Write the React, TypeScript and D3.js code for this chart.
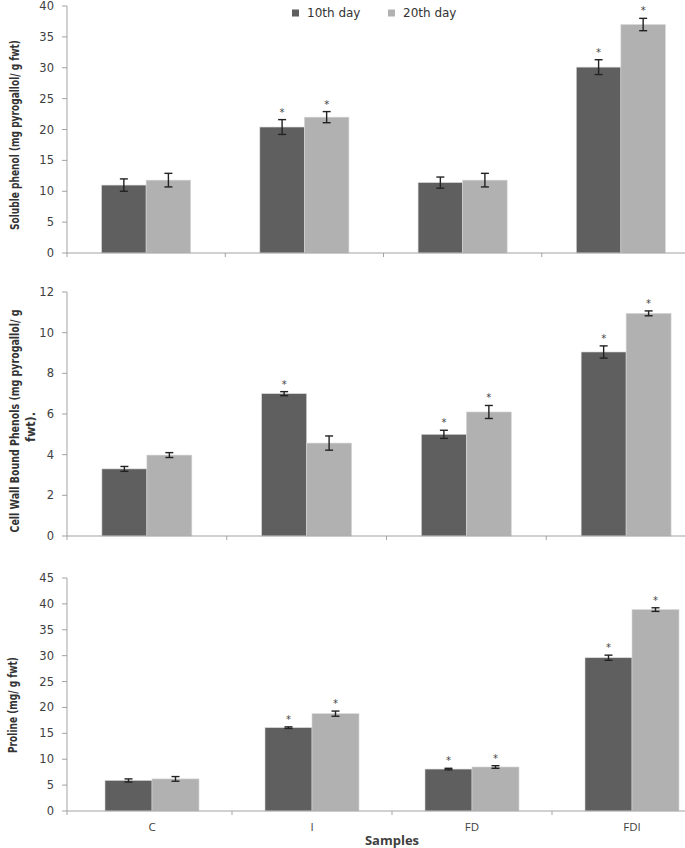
import React from "react";
import * as d3 from "d3";

const categories = ["C", "I", "FD", "FDI"];
const seriesNames = ["10th day", "20th day"];
const seriesColors = ["#5f5f5f", "#b1b1b1"];

// Soluble phenol
const soluble10 = [11.0, 20.4, 11.4, 30.1];
const soluble10Err = [1.0, 1.2, 0.9, 1.2];
const soluble10Sig = [false, true, false, true];
const soluble20 = [11.8, 22.0, 11.8, 37.0];
const soluble20Err = [1.1, 0.9, 1.1, 1.0];
const soluble20Sig = [false, true, false, true];
const solubleTicks = [0, 5, 10, 15, 20, 25, 30, 35, 40];

// Cell wall bound phenols
const cellWall10 = [3.3, 7.0, 5.0, 9.05];
const cellWall10Err = [0.12, 0.1, 0.2, 0.3];
const cellWall10Sig = [false, true, true, true];
const cellWall20 = [3.98, 4.57, 6.1, 10.95];
const cellWall20Err = [0.12, 0.35, 0.32, 0.12];
const cellWall20Sig = [false, false, true, true];
const cellWallTicks = [0, 2, 4, 6, 8, 10, 12];

// Proline
const proline10 = [5.9, 16.1, 8.1, 29.6];
const proline10Err = [0.3, 0.15, 0.15, 0.5];
const proline10Sig = [false, true, true, true];
const proline20 = [6.2, 18.8, 8.5, 38.9];
const proline20Err = [0.45, 0.5, 0.25, 0.35];
const proline20Sig = [false, true, true, true];
const prolineTicks = [0, 5, 10, 15, 20, 25, 30, 35, 40, 45];

const xAxisTitle = "Samples";

const LABEL_FONT = "'Liberation Sans Narrow', 'DejaVu Sans Condensed', 'Roboto Condensed', sans-serif";
const TICK_FONT = "'DejaVu Sans', Verdana, sans-serif";

type PanelProps = {
  yTop: number;
  yBottom: number;
  xRange: [number, number];
  padInner: number;
  ticks: number[];
  values: number[][];
  errors: number[][];
  sig: boolean[][];
  labelLines: { text: string; x: number; y: number; len: number }[];
  showCategories?: boolean;
  showLegend?: boolean;
};

function Panel(p: PanelProps) {
  const axisX = 67;
  const y = d3
    .scaleLinear()
    .domain([0, p.ticks[p.ticks.length - 1]])
    .range([p.yBottom, p.yTop]);
  const x = d3
    .scaleBand()
    .domain(categories)
    .range(p.xRange)
    .paddingInner(p.padInner)
    .paddingOuter(p.padInner / 2);
  const xs = d3
    .scaleBand<number>()
    .domain([0, 1])
    .range([0, x.bandwidth()]);
  const step = x.step();
  return (
    <g>
      {/* y axis */}
      <line x1={axisX} x2={axisX} y1={p.yTop} y2={p.yBottom} stroke="#a3a3a3" strokeWidth={1} />
      {p.ticks.map((t) => (
        <g key={t}>
          <line x1={axisX - 5} x2={axisX} y1={y(t)} y2={y(t)} stroke="#a3a3a3" strokeWidth={1} />
          <text
            x={axisX - 13}
            y={y(t)}
            dy="0.35em"
            textAnchor="end"
            fontSize={11.5}
            fontFamily={TICK_FONT}
            fill="#404040"
          >
            {t}
          </text>
        </g>
      ))}
      {/* bars */}
      {categories.map((c, i) => (
        <g key={c} transform={`translate(${x(c)},0)`}>
          {[0, 1].map((s) => {
            const v = p.values[s][i];
            const e = p.errors[s][i];
            const bx = xs(s) as number;
            const bw = xs.bandwidth();
            const cx = bx + bw / 2;
            return (
              <g key={s}>
                <rect
                  x={bx}
                  y={y(v)}
                  width={bw}
                  height={y(0) - y(v)}
                  fill={seriesColors[s]}
                  stroke="#d8d8d8"
                  strokeWidth={0.6}
                />
                <line x1={cx} x2={cx} y1={y(v + e)} y2={y(v - e)} stroke="#222" strokeWidth={1.4} />
                <line x1={cx - 4} x2={cx + 4} y1={y(v + e)} y2={y(v + e)} stroke="#222" strokeWidth={1.4} />
                <line x1={cx - 4} x2={cx + 4} y1={y(v - e)} y2={y(v - e)} stroke="#222" strokeWidth={1.4} />
                {p.sig[s][i] && (
                  <text
                    x={cx}
                    y={y(v + e) - 4}
                    textAnchor="middle"
                    fontSize={10}
                    fontFamily={TICK_FONT}
                    fill="#444"
                  >
                    *
                  </text>
                )}
              </g>
            );
          })}
        </g>
      ))}
      {/* x axis */}
      <line x1={axisX} x2={685} y1={p.yBottom} y2={p.yBottom} stroke="#a3a3a3" strokeWidth={1} />
      <line x1={axisX} x2={axisX} y1={p.yBottom} y2={p.yBottom + 4} stroke="#a3a3a3" strokeWidth={1} />
      {categories.slice(1).map((c) => (
        <line
          key={c}
          x1={(x(c) as number) - (step * p.padInner) / 2}
          x2={(x(c) as number) - (step * p.padInner) / 2}
          y1={p.yBottom}
          y2={p.yBottom + 4}
          stroke="#a3a3a3"
          strokeWidth={1}
        />
      ))}
      {p.showCategories &&
        categories.map((c) => (
          <text
            key={c}
            x={(x(c) as number) + x.bandwidth() / 2}
            y={p.yBottom + 20}
            textAnchor="middle"
            fontSize={11.5}
            fontFamily="'Open Sans', 'Liberation Sans', sans-serif"
            fill="#404040"
          >
            {c}
          </text>
        ))}
      {p.showCategories && (
        <text
          x={(p.xRange[0] + p.xRange[1]) / 2}
          y={p.yBottom + 34}
          textAnchor="middle"
          fontSize={13}
          fontWeight="bold"
          fontFamily="'Open Sans', 'Liberation Sans', sans-serif"
          fill="#404040"
        >
          {xAxisTitle}
        </text>
      )}
      {/* y label */}
      {p.labelLines.map((l, k) => (
        <text
          key={k}
          transform={`translate(${l.x},${l.y}) rotate(-90)`}
          textAnchor="middle"
          dominantBaseline="central"
          fontSize={12}
          fontWeight="bold"
          fontFamily={LABEL_FONT}
          fill="#333"
          textLength={l.len}
          lengthAdjust="spacingAndGlyphs"
        >
          {l.text}
        </text>
      ))}
      {p.showLegend &&
        seriesNames.map((n, s) => {
          const lx = [292, 388][s];
          return (
            <g key={n}>
              <rect x={lx} y={9.5} width={7} height={7} fill={seriesColors[s]} />
              <text
                x={lx + 15}
                y={13}
                dy="0.35em"
                fontSize={12}
                fontFamily={TICK_FONT}
                fill="#333"
              >
                {n}
              </text>
            </g>
          );
        })}
    </g>
  );
}

export default function App() {
  return (
    <svg
      width={685}
      height={848}
      style={{ position: "absolute", left: 0, top: 0, background: "#fff" }}
    >
      <rect width={685} height={848} fill="#fff" />
      <Panel
        yTop={6}
        yBottom={253}
        xRange={[67, 700]}
        padInner={0.437}
        ticks={solubleTicks}
        values={[soluble10, soluble20]}
        errors={[soluble10Err, soluble20Err]}
        sig={[soluble10Sig, soluble20Sig]}
        labelLines={[{ text: "Soluble phenol (mg pyrogallol/ g fwt)", x: 15, y: 135, len: 190 }]}
        showLegend
      />
      <Panel
        yTop={292}
        yBottom={536}
        xRange={[67, 706]}
        padInner={0.437}
        ticks={cellWallTicks}
        values={[cellWall10, cellWall20]}
        errors={[cellWall10Err, cellWall20Err]}
        sig={[cellWall10Sig, cellWall20Sig]}
        labelLines={[
          { text: "Cell Wall Bound Phenols (mg pyrogallol/ g", x: 15, y: 421, len: 223 },
          { text: "fwt).", x: 31, y: 427, len: 30 },
        ]}
      />
      <Panel
        yTop={578}
        yBottom={811}
        xRange={[72, 712]}
        padInner={0.4125}
        ticks={prolineTicks}
        values={[proline10, proline20]}
        errors={[proline10Err, proline20Err]}
        sig={[proline10Sig, proline20Sig]}
        labelLines={[{ text: "Proline (mg/ g fwt)", x: 13, y: 705, len: 96 }]}
        showCategories
      />
    </svg>
  );
}
